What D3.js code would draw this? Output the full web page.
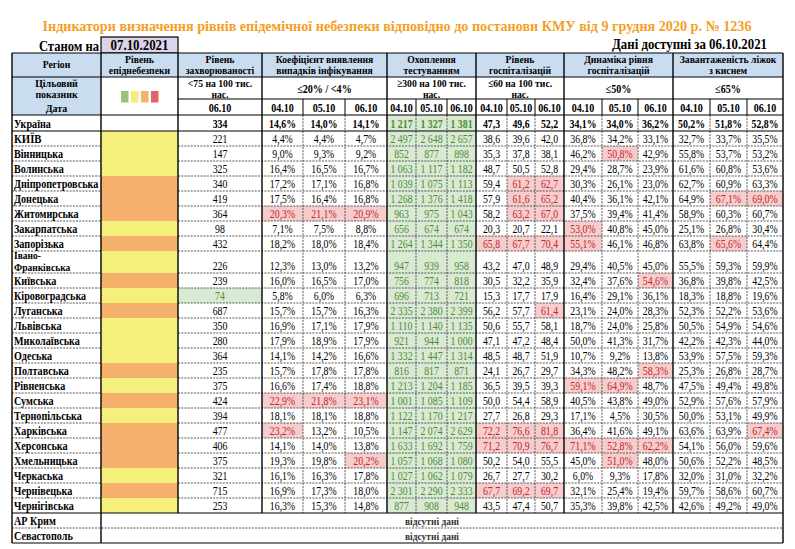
<!DOCTYPE html>
<html><head><meta charset="utf-8">
<script src="https://cdn.jsdelivr.net/npm/d3@7"></script>
<style>
html,body{margin:0;padding:0;background:#fff;}
svg{display:block;}
text{font-family:"Liberation Serif","Times New Roman",serif;}
</style></head>
<body><svg id="c" width="795" height="549"></svg>
<script>
// ---------------- DATA ----------------
const title = "Індикатори визначення рівнів епідемічної небезпеки відповідно до постанови КМУ від 9 грудня 2020 р. № 1236";
const asOfDate = "07.10.2021";
const dataDate = "06.10.2021";
const regions = ["Україна","КИЇВ","Вінницька","Волинська","Дніпропетровська","Донецька","Житомирська","Закарпатська","Запорізька","Івано-Франківська","Київська","Кіровоградська","Луганська","Львівська","Миколаївська","Одеська","Полтавська","Рівненська","Сумська","Тернопільська","Харківська","Херсонська","Хмельницька","Черкаська","Чернівецька","Чернігівська"];
const noDataRegions = ["АР Крим","Севастополь"];
const dangerLevel = ["","yellow","yellow","yellow","orange","orange","orange","yellow","orange","yellow","orange","yellow","orange","yellow","yellow","yellow","orange","yellow","orange","yellow","orange","orange","orange","yellow","orange","yellow"];
const dates = ["04.10","05.10","06.10"];
const incidenceDate = "06.10";
const incidence = [334,221,147,325,340,419,364,98,432,226,239,74,687,350,280,364,235,375,424,394,477,406,375,321,715,253];
const detection0410 = [14.6,4.4,9.0,16.4,17.2,17.5,20.3,7.1,18.2,12.3,16.0,5.8,15.7,16.9,17.9,14.1,15.7,16.6,22.9,18.1,23.2,14.1,19.3,16.1,16.9,16.3];
const detection0510 = [14.0,4.4,9.3,16.5,17.1,16.4,21.1,7.5,18.0,13.0,16.5,6.0,15.7,17.1,18.9,14.2,17.8,17.4,21.8,18.1,13.2,14.0,19.8,16.3,17.3,15.3];
const detection0610 = [14.1,4.7,9.2,16.7,16.8,16.8,20.9,8.8,18.4,13.2,17.0,6.3,16.3,17.9,17.9,16.6,17.8,18.8,23.1,18.8,10.5,13.8,20.2,17.8,18.0,14.8];
const testing0410 = [1217,2497,852,1063,1039,1268,963,656,1264,947,756,696,2335,1110,921,1332,816,1213,1001,1122,1147,1633,1057,1027,2301,877];
const testing0510 = [1327,2648,877,1117,1075,1376,975,674,1344,939,774,713,2380,1140,944,1447,817,1204,1085,1170,2074,1692,1068,1062,2290,908];
const testing0610 = [1381,2657,898,1182,1113,1418,1043,674,1350,958,818,721,2399,1135,1000,1314,871,1185,1109,1217,2629,1759,1080,1079,2333,948];
const hosp0410 = [47.3,38.6,35.3,48.7,59.4,57.9,58.2,20.3,65.8,43.2,30.5,15.3,56.2,50.6,47.1,48.5,24.1,36.5,50.0,27.7,72.2,71.2,50.2,26.7,67.7,43.5];
const hosp0510 = [49.6,39.6,37.8,50.5,61.2,61.6,63.2,20.7,67.7,47.0,32.2,17.7,57.7,55.7,47.2,48.7,26.7,39.5,54.4,26.8,76.6,70.9,54.0,27.7,69.2,47.4];
const hosp0610 = [52.2,42.0,38.1,52.8,62.7,65.2,67.0,22.1,70.4,48.9,35.9,17.9,61.4,58.1,48.4,51.9,29.7,39.3,58.9,29.3,81.8,76.7,55.5,30.2,69.7,50.7];
const dyn0410 = [34.1,36.8,46.2,29.4,30.3,40.4,37.5,53.0,55.1,29.4,32.4,16.4,23.1,18.7,50.0,10.7,34.3,59.1,40.5,17.1,36.4,71.1,45.0,6.0,32.1,35.3];
const dyn0510 = [34.0,34.2,50.8,28.7,26.1,36.1,39.4,40.8,46.1,40.5,37.6,29.1,24.0,24.0,41.3,9.2,48.2,64.9,43.8,4.5,41.6,52.8,51.0,9.3,25.4,39.8];
const dyn0610 = [36.2,33.1,42.9,23.9,23.0,42.1,41.4,45.0,46.8,45.0,54.6,36.1,28.3,25.8,31.7,13.8,58.3,48.7,49.0,30.5,49.1,62.2,48.0,17.8,19.4,42.5];
const beds0410 = [50.2,32.7,55.8,61.6,62.7,64.9,58.9,25.1,63.8,55.5,36.8,18.3,52.3,50.5,42.2,53.9,25.3,47.5,52.9,50.0,63.6,54.1,50.6,32.0,59.7,42.6];
const beds0510 = [51.8,33.7,53.7,60.8,60.9,67.1,60.3,26.8,65.6,59.3,39.8,18.8,52.2,54.9,42.3,57.5,26.8,49.4,57.6,53.1,63.9,56.0,52.2,31.0,58.6,49.2];
const beds0610 = [52.8,35.5,53.2,53.6,63.3,69.0,60.7,30.4,64.4,59.9,42.5,19.6,53.6,54.6,44.0,59.3,28.7,49.8,57.9,49.9,67.4,59.6,48.5,32.2,60.7,49.0];
const groupTitles = [["Рівень","захворюваності"],["Коефіцієнт виявлення","випадків інфікування"],["Охоплення","тестуванням"],["Рівень","госпіталізацій"],["Динаміка рівня","госпіталізацій"],["Завантаженість ліжок","з киснем"]];
const groupTargets = [["<75 на 100 тис.","нас."],["≤20% / <4%"],["≥300 на 100 тис.","нас."],["≤60 на 100 тис.","нас."],["≤50%"],["≤65%"]];
const noDataText = "відсутні дані";

// ---------------- LAYOUT / STYLE ----------------
const svg = d3.select("#c");
const SX = 0.84;
const C = {blue:"#c9dcf0", yellow:"#f5f07c", orange:"#f5b06c", green:"#d9ead3", greenText:"#4f8a37",
  pink:"#f6cccc", redText:"#c1272d", title:"#f4a024", lav:"#dcd4e8", dash:"#444"};
const levelColor = {yellow:C.yellow, orange:C.orange};
const legendColors = ["#93c47d","#f5ef7a","#f6b26b","#e06666"];

const colKeys = ["region","level","inc","c1","c2","c3","t1","t2","t3","h1","h2","h3","d1","d2","d3","b1","b2","b3"];
const colEdges = [12,101,178,262,303,345,387,416,447,476,507,535,564,602,638,673,710,747,783];
const xL = d3.scaleOrdinal().domain(colKeys).range(colEdges.slice(0,-1));
const xR = d3.scaleOrdinal().domain(colKeys).range(colEdges.slice(1));
const xC = k => (xL(k)+xR(k))/2;

const allRows = regions.concat(noDataRegions);
const rowH = allRows.map(r => r==="Україна"?16:(r==="Івано-Франківська"?22:15));
const top0 = 115;
const tops = rowH.map((h,i)=> top0 + d3.sum(rowH.slice(0,i)));
const yT = d3.scaleOrdinal().domain(allRows).range(tops);
const yB = d3.scaleOrdinal().domain(allRows).range(tops.map((t,i)=>t+rowH[i]));
const tableTop = 53, h1B = 77, tgtB = 99, dateB = 115, bodyEnd = yB("Чернігівська"), tableBot = yB("Севастополь");

function T(x,y,s,o={}){
  return svg.append("text")
    .attr("transform",`translate(${x},${y}) scale(${o.sx??SX},1)`)
    .attr("text-anchor",o.anchor??"middle")
    .style("font-size",(o.size??12)+"px")
    .style("font-weight",o.bold?"bold":"normal")
    .attr("fill",o.fill??"#000")
    .text(s);
}
function rect(x0,y0,x1,y1,fill){ svg.append("rect").attr("x",x0).attr("y",y0).attr("width",x1-x0).attr("height",y1-y0).attr("fill",fill); }
function line(x0,y0,x1,y1,dashed,w){ svg.append("line").attr("x1",x0).attr("y1",y0).attr("x2",x1).attr("y2",y1)
  .attr("stroke",dashed?C.dash:"#000").attr("stroke-width",w??(dashed?0.9:1.2)).attr("stroke-dasharray",dashed?"2,1.2":null); }

const fmtL = d3.formatLocale({decimal:",",thousands:" ",grouping:[3],currency:["",""]});
const fmt1 = fmtL.format(".1f"), fmtInt = fmtL.format(",d");

const groups = [
  {keys:["inc"], vals:[incidence], f:fmtInt, bad:v=>false, good:v=>v<75},
  {keys:["c1","c2","c3"], vals:[detection0410,detection0510,detection0610], f:v=>fmt1(v)+"%", bad:v=>v>20},
  {keys:["t1","t2","t3"], vals:[testing0410,testing0510,testing0610], f:fmtInt, bad:v=>false, allGreen:true},
  {keys:["h1","h2","h3"], vals:[hosp0410,hosp0510,hosp0610], f:fmt1, bad:v=>v>60},
  {keys:["d1","d2","d3"], vals:[dyn0410,dyn0510,dyn0610], f:v=>fmt1(v)+"%", bad:v=>v>50},
  {keys:["b1","b2","b3"], vals:[beds0410,beds0510,beds0610], f:v=>fmt1(v)+"%", bad:v=>v>65}
];

// ---------------- TITLE ----------------
svg.append("text").attr("x",397).attr("y",31).attr("text-anchor","middle")
  .attr("textLength",709).attr("lengthAdjust","spacingAndGlyphs")
  .style("font-size","15px").style("font-weight","bold").attr("fill",C.title).text(title);
T(99,51,"Станом на",{anchor:"end",size:14,bold:true,sx:0.9});
rect(xL("level"),37,xR("level"),53,C.lav);
svg.append("rect").attr("x",xL("level")).attr("y",37).attr("width",xR("level")-xL("level")).attr("height",16).attr("fill","none").attr("stroke","#000").attr("stroke-width",1.2);
T(xC("level"),50,asOfDate,{size:14,bold:true,sx:0.92});
T(767,49,"Дані доступні за  "+dataDate,{anchor:"end",size:14,bold:true,sx:0.92});

// ---------------- BACKGROUNDS ----------------
rect(12,tableTop,783,h1B,C.blue);
rect(xL("region"),h1B,xR("region"),dateB,C.blue);
rect(xL("t1"),dateB,xR("t3"),bodyEnd,C.green);
regions.forEach((r,i)=>{ if(dangerLevel[i]) rect(xL("level"),yT(r),xR("level"),yB(r),levelColor[dangerLevel[i]]); });
groups.forEach(g=>{
  g.keys.forEach((k,j)=>{
    regions.forEach((r,i)=>{
      const v=g.vals[j][i];
      if(r!=="Україна" && g.bad(v)) rect(xL(k),yT(r),xR(k),yB(r),C.pink);
      if(g.good && g.good(v)) rect(xL(k),yT(r),xR(k),yB(r),C.green);
    });
  });
});
legendColors.forEach((c,i)=> rect(121+i*10,91,128.5+i*10,102.5,c));

// ---------------- LINES ----------------
allRows.forEach(r=>{
  const yb=yB(r);
  if(r==="Україна"||r==="Чернігівська"||r==="Севастополь") return;
  if(r==="АР Крим"){ line(12,yb,783,yb,true); return; }
  line(12,yb,xL("level"),yb,true);
  line(xR("level"),yb,783,yb,true);
});
["c2","c3","t2","t3","h2","h3","d2","d3","b2","b3"].forEach(k=>{
  line(xL(k),dateB,xL(k),bodyEnd,true);
  line(xL(k),tgtB,xL(k),dateB,false,1);
});
[tableTop,h1B,dateB,yB("Україна"),bodyEnd,tableBot].forEach(y=>line(12,y,783,y,false));
line(xL("inc"),tgtB,783,tgtB,false);
[12,101,178,262,387,476,564,673,783].forEach(x=>{
  const yEnd = (x===12||x===101||x===783)?tableBot:bodyEnd;
  line(x,tableTop,x,yEnd,false,1.4);
});

// ---------------- HEADER TEXT ----------------
const HS = 11;
T(xC("region"),68,"Регіон",{size:HS,bold:true,sx:0.88});
T(xC("level"),63,"Рівень",{size:HS,bold:true,sx:0.88});
T(xC("level"),74,"епіднебезпеки",{size:HS,bold:true,sx:0.88});
const gKeys=[["inc"],["c1","c3"],["t1","t3"],["h1","h3"],["d1","d3"],["b1","b3"]];
groupTitles.forEach((t,i)=>{
  const k=gKeys[i]; const cx=(xL(k[0])+xR(k[k.length-1]))/2;
  T(cx,63,t[0],{size:HS,bold:true,sx:0.88}); T(cx,74,t[1],{size:HS,bold:true,sx:0.88});
  const tg=groupTargets[i];
  if(tg.length===2){ T(cx,86.5,tg[0],{size:HS,bold:true,sx:0.88}); T(cx,97.5,tg[1],{size:HS,bold:true,sx:0.88}); }
  else T(cx,92.5,tg[0],{size:11.5,bold:true,sx:0.88});
});
T(xC("region"),86.5,"Цільовий",{size:HS,bold:true,sx:0.9});
T(xC("region"),98,"показник",{size:HS,bold:true,sx:0.9});
T(xC("region"),112,"Дата",{size:HS,bold:true,sx:0.9});
T(xC("inc"),112,incidenceDate,{size:12,bold:true});
groups.slice(1).forEach(g=>g.keys.forEach((k,j)=>T(xC(k),112,dates[j],{size:12,bold:true})));

// ---------------- BODY TEXT ----------------
regions.forEach((r,i)=>{
  const yb=yB(r)-2.6; const bold=(r==="Україна");
  if(r==="Івано-Франківська"){
    T(14,yT(r)+8,"Івано-",{anchor:"start",bold:true,size:10.8,sx:0.88});
    T(14,yB(r)-1.8,"Франківська",{anchor:"start",bold:true,size:10.8,sx:0.88});
  }
  else T(14,yb,r,{anchor:"start",bold:true,size:r==="КИЇВ"?12.5:11.8,sx:0.86});
  groups.forEach(g=>{
    g.keys.forEach((k,j)=>{
      const v=g.vals[j][i];
      let fill="#000";
      if(g.allGreen) fill=C.greenText;
      else if(g.good && g.good(v)) fill=C.greenText;
      else if(!bold && g.bad(v)) fill=C.redText;
      T(xC(k),yb,g.f(v),{bold:bold,size:12,sx:0.82,fill:fill});
    });
  });
});
noDataRegions.forEach(r=>{
  T(14,yB(r)-2.6,r,{anchor:"start",bold:true,size:11.8,sx:0.86});
  T(432,yB(r)-3,noDataText,{size:11,bold:true,fill:"#333",sx:0.86});
});
</script>
</body></html>
